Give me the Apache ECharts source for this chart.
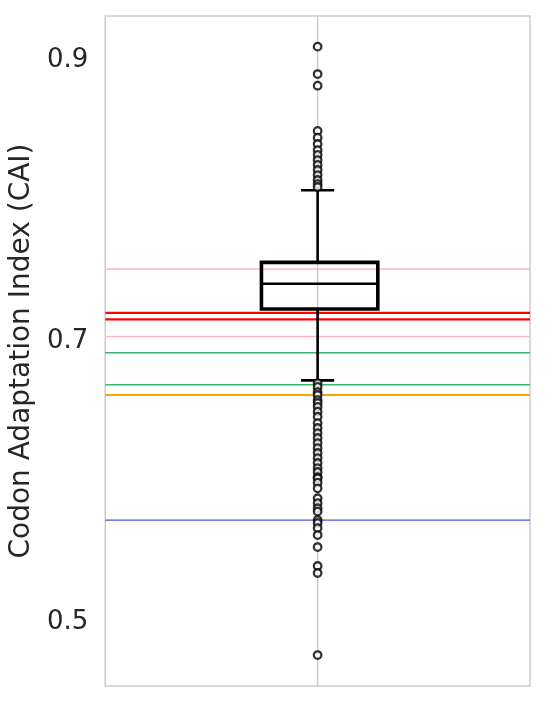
<!DOCTYPE html>
<html>
<head>
<meta charset="utf-8">
<script src="https://cdn.jsdelivr.net/npm/echarts@6/dist/echarts.min.js"></script>
</head>
<body style="margin:0">
<div id="container" style="width:550px;height:704px"></div>
<script type="text/javascript">
    var dom = document.getElementById("container");
    var myChart = echarts.init(dom);

    // data
    var categories = ["CAI"];
    // lower whisker, q1, median, q3, upper whisker
    var boxStats = [0.672, 0.7228, 0.7408, 0.7560, 0.8073];
    var outliers = [
        0.9095, 0.8900, 0.8817,
        0.8495, 0.8447, 0.8402, 0.8359, 0.8324, 0.8288, 0.8253, 0.8217, 0.8181, 0.8146, 0.8117, 0.8096,
        0.6701, 0.6673, 0.6637, 0.6616, 0.6580, 0.6559, 0.6532, 0.6497, 0.6461, 0.6416, 0.6381,
        0.6345, 0.6310, 0.6274, 0.6238, 0.6203, 0.6167, 0.6132, 0.6096, 0.6068, 0.6032,
        0.6023, 0.5992, 0.5952, 0.5881, 0.5846, 0.5810, 0.5786,
        0.5726, 0.5705, 0.5669, 0.5619, 0.5534, 0.5399, 0.5349, 0.4765
    ];
    var refValues = [0.7512, 0.7201, 0.7154, 0.7033, 0.6917, 0.6689, 0.6616, 0.5726];
    var refColors = ["#ffb6c1", "#ff0000", "#ff0000", "#ffb6c1", "#3cb371", "#3cb371", "#ffa500", "#5050d2"];
    var refWidths = [1.5, 2.2, 2.2, 1.5, 1.5, 1.5, 2, 1.2];
    var yTicks = [0.5, 0.7, 0.9];
    var yMin = 0.4545, yMax = 0.9313;

    var lineColor = "#000000";

    // horizontal reference lines across the whole plot
    function renderRef(params, api) {
        var cs = params.coordSys;
        var p = api.coord([categories[0], api.value(1)]);
        var i = api.value(0);
        return {
            type: "line",
            shape: {x1: cs.x, y1: p[1], x2: cs.x + cs.width, y2: p[1]},
            style: {stroke: refColors[i], lineWidth: refWidths[i], fill: null}
        };
    }

    // vertical grid line at the category
    function renderGrid(params, api) {
        var cs = params.coordSys;
        var p = api.coord([categories[0], yMin]);
        return {
            type: "line",
            shape: {x1: p[0], y1: cs.y, x2: p[0], y2: cs.y + cs.height},
            style: {stroke: "#cccccc", lineWidth: 1.5, fill: null}
        };
    }

    function renderBox(params, api) {
        var cat = api.value(0);
        var lo = api.coord([cat, api.value(1)]);
        var q1 = api.coord([cat, api.value(2)]);
        var med = api.coord([cat, api.value(3)]);
        var q3 = api.coord([cat, api.value(4)]);
        var hi = api.coord([cat, api.value(5)]);
        var band = api.size([1, 0])[0];
        var cx = lo[0];
        var hw = band * 0.137;
        var cw = band * 0.039;
        var thin = {stroke: lineColor, lineWidth: 2.6, fill: null};
        return {
            type: "group",
            children: [
                {type: "line", shape: {x1: cx, y1: q3[1], x2: cx, y2: hi[1]}, style: thin},
                {type: "line", shape: {x1: cx, y1: q1[1], x2: cx, y2: lo[1]}, style: thin},
                {type: "line", shape: {x1: cx - cw, y1: hi[1], x2: cx + cw, y2: hi[1]}, style: thin},
                {type: "line", shape: {x1: cx - cw, y1: lo[1], x2: cx + cw, y2: lo[1]}, style: thin},
                {type: "rect", shape: {x: cx - hw + 2, y: q3[1], width: 2 * hw, height: q1[1] - q3[1]},
                    style: {stroke: lineColor, lineWidth: 3.6, fill: null}},
                {type: "line", shape: {x1: cx - hw + 2, y1: med[1], x2: cx + hw + 2, y2: med[1]},
                    style: {stroke: lineColor, lineWidth: 2.4, fill: null}}
            ]
        };
    }

    var refData = refValues.map(function (v, i) { return [i, v]; });
    var outlierData = outliers.map(function (v) { return [categories[0], v]; });

    var option = {
        animation: false,
        grid: {
            left: 105, right: 20, top: 16, bottom: 18,
            show: true, borderColor: "#cccccc", borderWidth: 1.5, backgroundColor: "#ffffff"
        },
        xAxis: {
            type: "category",
            data: categories,
            axisLine: {show: false},
            axisTick: {show: false},
            axisLabel: {show: false},
            splitLine: {show: false}
        },
        yAxis: {
            type: "value",
            min: yMin,
            max: yMax,
            name: "Codon Adaptation Index (CAI)",
            nameLocation: "middle",
            nameGap: 64,
            nameTextStyle: {fontFamily: "DejaVu Sans", fontSize: 28, color: "#262626"},
            axisLine: {show: false},
            axisTick: {show: false},
            splitLine: {show: false},
            axisLabel: {
                customValues: yTicks,
                margin: 17,
                fontFamily: "DejaVu Sans",
                fontSize: 26,
                color: "#262626",
                formatter: function (v) { return v.toFixed(1); }
            }
        },
        series: [
            {
                type: "custom",
                z: 1,
                silent: true,
                renderItem: renderGrid,
                encode: {x: -1, y: -1},
                data: [[0]]
            },
            {
                type: "custom",
                z: 2,
                silent: true,
                renderItem: renderRef,
                encode: {x: -1, y: 1},
                data: refData
            },
            {
                type: "custom",
                z: 5,
                renderItem: renderBox,
                data: [[0].concat(boxStats)]
            },
            {
                type: "scatter",
                z: 6,
                symbol: "circle",
                symbolSize: 7.5,
                itemStyle: {color: "#ffffff", borderColor: "#000000", borderWidth: 2.3},
                data: outlierData
            }
        ]
    };

    myChart.setOption(option);
</script>
</body>
</html>
